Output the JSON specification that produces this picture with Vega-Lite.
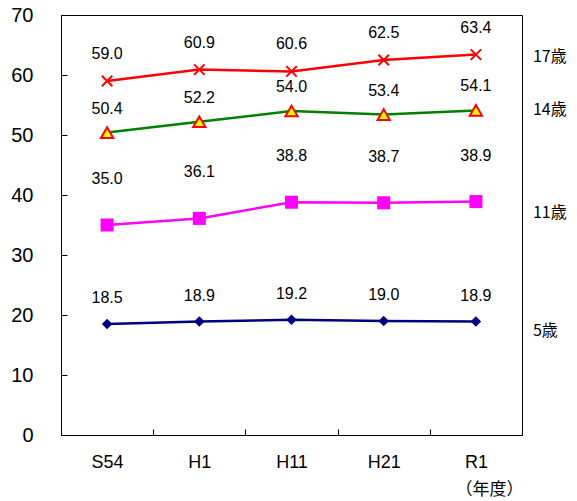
{
  "$schema": "https://vega.github.io/schema/vega-lite/v6.json",
  "width": 461,
  "height": 420,
  "autosize": "none",
  "padding": {"left": 61, "top": 15, "right": 55, "bottom": 66},
  "background": "white",
  "config": {
    "view": {"stroke": "#000", "strokeWidth": 1},
    "font": "Liberation Sans",
    "text": {"font": "Liberation Sans"}
  },
  "data": {
    "values": [
      {"year": "S54", "age": "17歳", "value": 59.0},
      {"year": "H1", "age": "17歳", "value": 60.9},
      {"year": "H11", "age": "17歳", "value": 60.6},
      {"year": "H21", "age": "17歳", "value": 62.5},
      {"year": "R1", "age": "17歳", "value": 63.4},
      {"year": "S54", "age": "14歳", "value": 50.4},
      {"year": "H1", "age": "14歳", "value": 52.2},
      {"year": "H11", "age": "14歳", "value": 54.0},
      {"year": "H21", "age": "14歳", "value": 53.4},
      {"year": "R1", "age": "14歳", "value": 54.1},
      {"year": "S54", "age": "11歳", "value": 35.0},
      {"year": "H1", "age": "11歳", "value": 36.1},
      {"year": "H11", "age": "11歳", "value": 38.8},
      {"year": "H21", "age": "11歳", "value": 38.7},
      {"year": "R1", "age": "11歳", "value": 38.9},
      {"year": "S54", "age": "5歳", "value": 18.5},
      {"year": "H1", "age": "5歳", "value": 18.9},
      {"year": "H11", "age": "5歳", "value": 19.2},
      {"year": "H21", "age": "5歳", "value": 19.0},
      {"year": "R1", "age": "5歳", "value": 18.9}
    ]
  },
  "encoding": {
    "x": {
      "field": "year", "type": "ordinal",
      "sort": ["S54", "H1", "H11", "H21", "R1"],
      "scale": {"type": "band", "paddingInner": 0, "paddingOuter": 0},
      "axis": {
        "title": "（年度）", "titleFont": "Noto Sans CJK JP", "titleFontSize": 17, "titleFontWeight": "normal",
        "titleColor": "#000", "titleX": 428, "titleY": 54, "titleAlign": "center", "titleBaseline": "middle",
        "domain": false, "tickBand": "extent", "tickSize": -6, "tickColor": "#000",
        "labelAngle": 0, "labelFontSize": 18, "labelColor": "#000", "labelPadding": 24,
        "labelFont": "Liberation Sans"
      }
    },
    "y": {
      "field": "value", "type": "quantitative",
      "scale": {"domain": [0, 70], "nice": false},
      "axis": {
        "title": null, "domain": false, "grid": false, "values": [0, 10, 20, 30, 40, 50, 60, 70],
        "labelOverlap": false,
        "tickSize": -6, "tickColor": "#000", "labelFontSize": 20, "labelColor": "#000",
        "labelPadding": 34, "labelFont": "Liberation Sans"
      }
    }
  },
  "layer": [
    {
      "mark": {"type": "line", "strokeWidth": 2.5},
      "encoding": {
        "color": {"field": "age", "type": "nominal", "legend": null,
          "scale": {"domain": ["17歳", "14歳", "11歳", "5歳"], "range": ["#FF0000", "#008000", "#FF00FF", "#000080"]}}
      }
    },
    {
      "transform": [{"filter": "datum.age == '17歳'"}],
      "layer": [
        {"mark": {"type": "point", "shape": "M-1,-1L1,1M1,-1L-1,1", "filled": false, "stroke": "#FF0000", "strokeWidth": 2, "size": 110, "opacity": 1}},
        {"mark": {"type": "text", "dy": -27, "fontSize": 16, "color": "#000"}, "encoding": {"text": {"field": "value", "type": "quantitative", "format": ".1f"}}},
        {"transform": [{"filter": "datum.year == 'R1'"}], "mark": {"type": "text", "align": "left", "dx": 57, "dy": 2, "fontSize": 16, "font": "Noto Sans CJK JP", "color": "#000"}, "encoding": {"text": {"field": "age", "type": "nominal"}}}
      ]
    },
    {
      "transform": [{"filter": "datum.age == '14歳'"}],
      "layer": [
        {"mark": {"type": "point", "shape": "triangle-up", "filled": true, "fill": "#FFFF00", "stroke": "#FF0000", "strokeWidth": 2, "size": 150, "opacity": 1}},
        {"mark": {"type": "text", "dy": -24, "fontSize": 16, "color": "#000"}, "encoding": {"text": {"field": "value", "type": "quantitative", "format": ".1f"}}},
        {"transform": [{"filter": "datum.year == 'R1'"}], "mark": {"type": "text", "align": "left", "dx": 57, "dy": 0, "fontSize": 16, "font": "Noto Sans CJK JP", "color": "#000"}, "encoding": {"text": {"field": "age", "type": "nominal"}}}
      ]
    },
    {
      "transform": [{"filter": "datum.age == '11歳'"}],
      "layer": [
        {"mark": {"type": "point", "shape": "square", "filled": true, "fill": "#FF00FF", "strokeWidth": 0, "size": 170, "opacity": 1}},
        {"mark": {"type": "text", "dy": -46, "fontSize": 16, "color": "#000"}, "encoding": {"text": {"field": "value", "type": "quantitative", "format": ".1f"}}},
        {"transform": [{"filter": "datum.year == 'R1'"}], "mark": {"type": "text", "align": "left", "dx": 57, "dy": 11, "fontSize": 16, "font": "Noto Sans CJK JP", "color": "#000"}, "encoding": {"text": {"field": "age", "type": "nominal"}}}
      ]
    },
    {
      "transform": [{"filter": "datum.age == '5歳'"}],
      "layer": [
        {"mark": {"type": "point", "shape": "diamond", "filled": true, "fill": "#000080", "strokeWidth": 0, "size": 110, "opacity": 1}},
        {"mark": {"type": "text", "dy": -26, "fontSize": 16, "color": "#000"}, "encoding": {"text": {"field": "value", "type": "quantitative", "format": ".1f"}}},
        {"transform": [{"filter": "datum.year == 'R1'"}], "mark": {"type": "text", "align": "left", "dx": 57, "dy": 9, "fontSize": 16, "font": "Noto Sans CJK JP", "color": "#000"}, "encoding": {"text": {"field": "age", "type": "nominal"}}}
      ]
    }
  ]
}
